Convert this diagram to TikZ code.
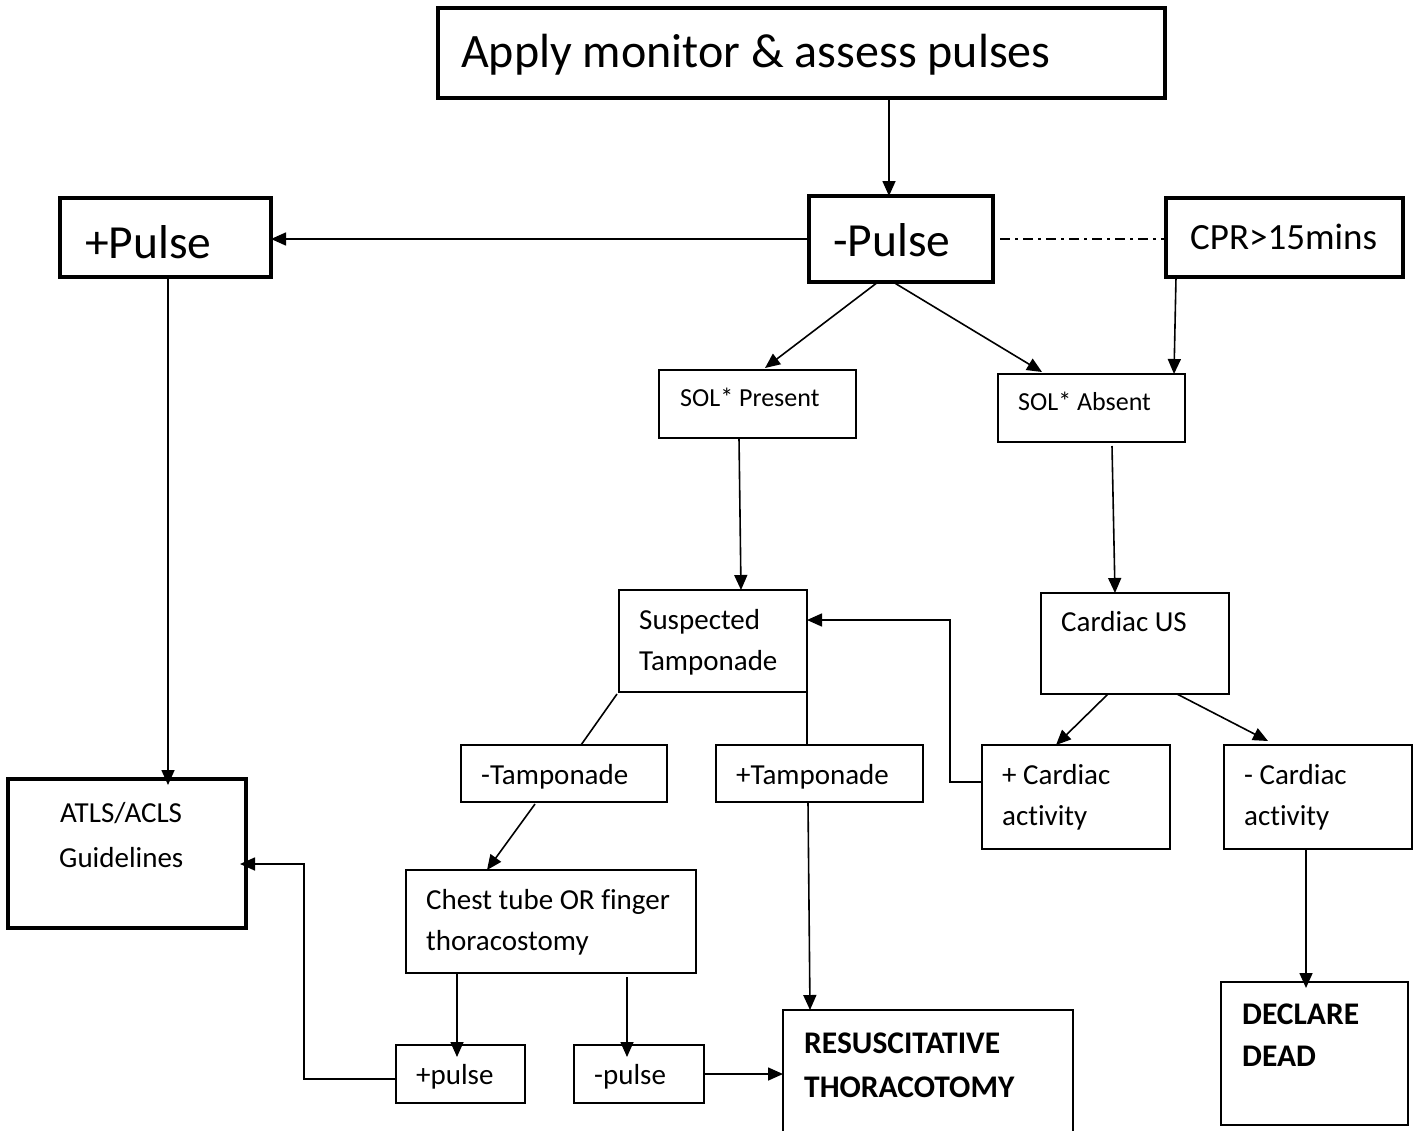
\documentclass[tikz,border=0pt]{standalone}
\usepackage{fontspec}
\setmainfont[Ligatures={NoCommon}]{Carlito}
\usetikzlibrary{arrows.meta}
\begin{document}
\begin{tikzpicture}[x=1pt,y=-1pt,
  thinbox/.style={draw,line width=1.5pt,inner sep=0,outer sep=0,anchor=north west},
  thickbox/.style={draw,line width=4.5pt,inner sep=0,outer sep=0,anchor=north west},
  txt/.style={inner sep=0,anchor=base west,font=\fontsize{#1}{#1}\selectfont},
  btxt/.style={inner sep=0,anchor=base west,font=\fontsize{#1}{#1}\selectfont\bfseries},
  arr/.style={line width=1.6pt,-{Triangle[length=15pt,width=13pt]}},
  ln/.style={line width=1.6pt}]
\useasboundingbox (0,0) rectangle (1413,1130);
% boxes
\node[thickbox,minimum width=727,minimum height=90] (apply) at (438,8) {};
\node[thickbox,minimum width=211,minimum height=79] (ppulse) at (60,198) {};
\node[thickbox,minimum width=184,minimum height=86] (mpulse) at (809,196) {};
\node[thickbox,minimum width=237,minimum height=79] (cpr) at (1166,198) {};
\node[thinbox,minimum width=197,minimum height=68] (solp) at (659,370) {};
\node[thinbox,minimum width=187,minimum height=68] (sola) at (998,374) {};
\node[thinbox,minimum width=188,minimum height=102] (susp) at (619,590) {};
\node[thinbox,minimum width=188,minimum height=101] (cus) at (1041,593) {};
\node[thinbox,minimum width=206,minimum height=57] (mtamp) at (461,745) {};
\node[thinbox,minimum width=207,minimum height=57] (ptamp) at (716,745) {};
\node[thinbox,minimum width=188,minimum height=104] (pcard) at (982,745) {};
\node[thinbox,minimum width=188,minimum height=104] (mcard) at (1224,745) {};
\node[thickbox,minimum width=238,minimum height=149] (atls) at (8,779) {};
\node[thinbox,minimum width=290,minimum height=103] (chest) at (406,870) {};
\node[thinbox,minimum width=129,minimum height=58] (ppl) at (396,1045) {};
\node[thinbox,minimum width=130,minimum height=58] (mpl) at (574,1045) {};
\node[thinbox,minimum width=290,minimum height=140] (resus) at (783,1010) {};
\node[thinbox,minimum width=187,minimum height=143] (dead) at (1221,982) {};
% texts
\node[txt=48] (tapply) at (461,67) {Apply monitor \& assess pulses};
\node[txt=47.5] (tppulse) at (85,258) {+Pulse};
\node[txt=47.5] (tmpulse) at (833,256) {-Pulse};
\node[txt=37] (tcpr) at (1190,249) {CPR>15mins};
\node[txt=26] (tsolp) at (680,406) {SOL* Present};
\node[txt=26] (tsola) at (1018,410) {SOL* Absent};
\node[txt=29] (tsusp1) at (639,629) {Suspected};
\node[txt=29] (tsusp2) at (639,670) {Tamponade};
\node[txt=29] (tcus) at (1061,631) {Cardiac US};
\node[txt=29] (tmtamp) at (481,784) {-Tamponade};
\node[txt=29] (tptamp) at (736,784) {+Tamponade};
\node[txt=29] (tpcard1) at (1002,784) {+ Cardiac};
\node[txt=29] (tpcard2) at (1002,825) {activity};
\node[txt=29] (tmcard1) at (1244,784) {- Cardiac};
\node[txt=29] (tmcard2) at (1244,825) {activity};
\node[txt=29] (tatls1) at (60,822) {ATLS/ACLS};
\node[txt=29] (tatls2) at (59,867) {Guidelines};
\node[txt=29] (tchest1) at (426,909) {Chest tube OR finger};
\node[txt=29] (tchest2) at (426,950) {thoracostomy};
\node[txt=29] (tppl) at (416,1084) {+pulse};
\node[txt=29] (tmpl) at (594,1084) {-pulse};
\node[btxt=31.5] (tresus1) at (804,1053) {RESUSCITATIVE};
\node[btxt=31.5] (tresus2) at (804,1097) {THORACOTOMY};
\node[btxt=31.5] (tdead1) at (1242,1024) {DECLARE};
\node[btxt=31.5] (tdead2) at (1242,1066) {DEAD};
% connectors
\draw[arr] ([xshift=451]apply.south west) -- ([xshift=80]mpulse.north west);
\draw[arr] (mpulse.west) -- (mpulse.west -| ppulse.east);
\draw[ln,dash pattern=on 10pt off 5pt on 3pt off 5pt] ([xshift=7]mpulse.east) -- (cpr.west |- mpulse.east);
\draw[arr] ([xshift=69]mpulse.south west) -- ([xshift=106,yshift=2]solp.north west);
\draw[arr] ([xshift=84]mpulse.south west) -- ([xshift=44,yshift=2]sola.north west);
\draw[arr] ([xshift=10]cpr.south west) -- ([xshift=176]sola.north west);
\draw[arr] ([xshift=108]ppulse.south west) -- ([xshift=160,yshift=-6]atls.north west);
\draw[arr] ([xshift=80]solp.south west) -- ([xshift=122]susp.north west);
\draw[arr] ([xshift=114,yshift=-4]sola.south west) -- ([xshift=74]cus.north west);
\draw[arr] ([yshift=-37]pcard.north west) -- ++(-32,0) |- ([yshift=-30]susp.north east);
\draw[arr] ([xshift=67]cus.south west) -- ([xshift=74]pcard.north west);
\draw[arr] ([xshift=136]cus.south west) -- ([xshift=44,yshift=4]mcard.north west);
\draw[ln] ([xshift=-2,yshift=-2]susp.south west) -- ([xshift=120]mtamp.north west);
\draw[ln] (susp.south east) -- ([xshift=91]ptamp.north west);
\draw[arr] ([xshift=74,yshift=-2]mtamp.south west) -- ([xshift=81]chest.north west);
\draw[arr] ([xshift=92]ptamp.south west) -- ([xshift=27]resus.north west);
\draw[arr] ([xshift=51]chest.south west) -- ([xshift=61,yshift=-12]ppl.north west);
\draw[arr] ([xshift=221,yshift=-4]chest.south west) -- ([xshift=53,yshift=-12]mpl.north west);
\draw[arr] (mpl.east) -- (mpl.east -| resus.west);
\draw[arr] ([yshift=-34]ppl.north west) -- ++(-92,0) |- ([xshift=-6,yshift=-85]atls.north east);
\draw[arr] ([xshift=82]mcard.south west) -- ([xshift=85,yshift=-6]dead.north west);
\end{tikzpicture}
\end{document}
